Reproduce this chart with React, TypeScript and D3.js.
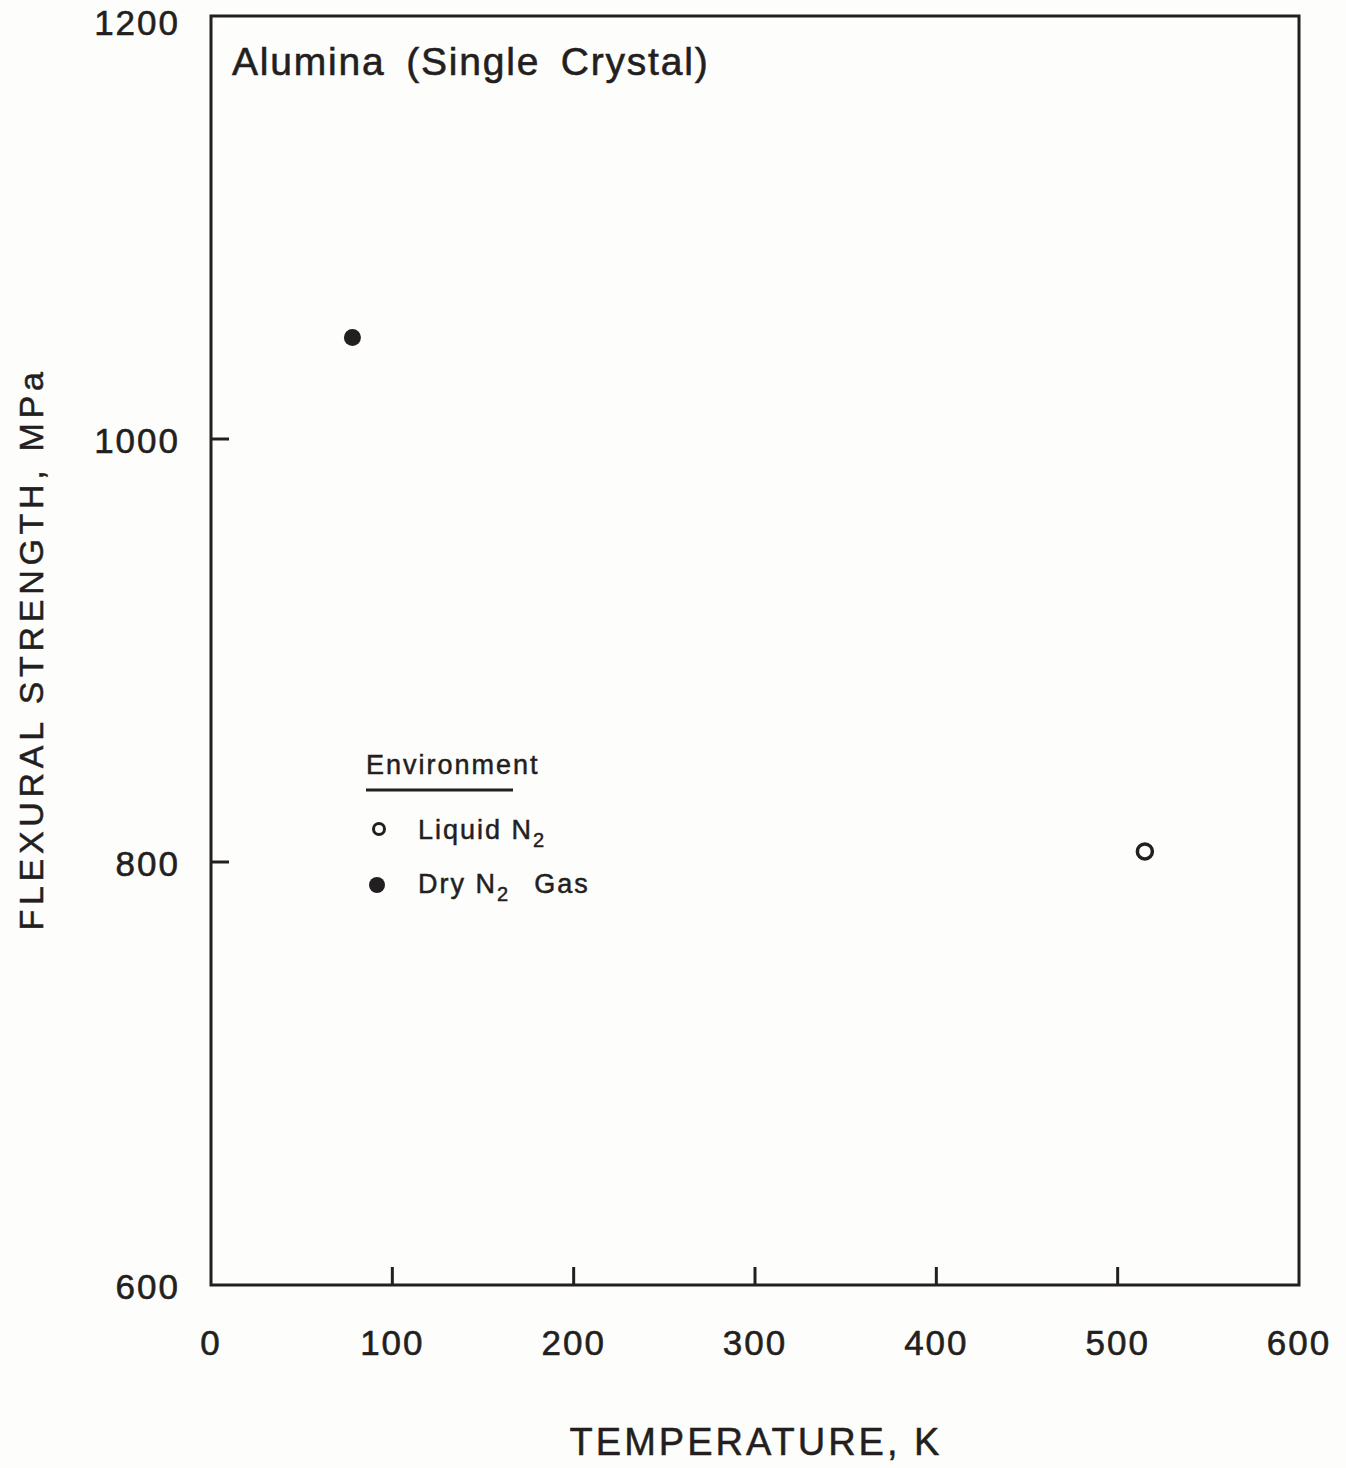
import React from "react";
import * as d3 from "d3";

// Flexural strength of single-crystal alumina vs. temperature
const liquidN2Temps = [515];
const liquidN2Strength = [805];
const dryN2Temps = [78];
const dryN2Strength = [1048];

const xTicks = [0, 100, 200, 300, 400, 500, 600];
const yTicks = [600, 800, 1000, 1200];

const W = 1346;
const H = 1468;
const left = 211;
const right = 1299;
const top = 16;
const bottom = 1285;
const ink = "#231f20";
const font = "'Liberation Sans', Arial, Helvetica, sans-serif";

export default function App() {
  const x = d3.scaleLinear().domain([0, 600]).range([left, right]);
  const y = d3.scaleLinear().domain([600, 1200]).range([bottom, top]);

  return (
    <svg
      width={W}
      height={H}
      style={{ position: "absolute", left: 0, top: 0, background: "#fdfdfb" }}
      fontFamily={font}
      fontWeight={500}
    >
      <rect x={0} y={0} width={W} height={H} fill="#fdfdfb" />
      {/* plot frame */}
      <rect
        x={left}
        y={top}
        width={right - left}
        height={bottom - top}
        fill="none"
        stroke={ink}
        strokeWidth={3}
      />
      {/* x ticks (inward) */}
      {xTicks.slice(1, -1).map((t) => (
        <line key={"xt" + t} x1={x(t)} x2={x(t)} y1={bottom} y2={bottom - 18} stroke={ink} strokeWidth={3} />
      ))}
      {xTicks.map((t) => (
        <text key={"xl" + t} x={x(t)} y={1355} textAnchor="middle" fontSize={35} fill={ink} letterSpacing={2} stroke={ink} strokeWidth={0.6}>
          {t}
        </text>
      ))}
      {/* y ticks (inward) */}
      {yTicks.slice(1, -1).map((t) => (
        <line key={"yt" + t} x1={left} x2={left + 18} y1={y(t)} y2={y(t)} stroke={ink} strokeWidth={3} />
      ))}
      {yTicks.map((t) => (
        <text key={"yl" + t} x={180} y={y(t) + (t === 1200 ? 19 : 14)} textAnchor="end" fontSize={35} fill={ink} letterSpacing={2} stroke={ink} strokeWidth={0.6}>
          {t}
        </text>
      ))}
      {/* axis titles */}
      <text x={756} y={1455} textAnchor="middle" fontSize={38} fill={ink} letterSpacing={3} stroke={ink} strokeWidth={0.5}>
        TEMPERATURE, K
      </text>
      <text
        transform={`translate(43, ${649}) rotate(-90)`}
        textAnchor="middle"
        fontSize={34}
        fill={ink}
        letterSpacing={4.7}
        stroke={ink}
        strokeWidth={0.5}
      >
        FLEXURAL STRENGTH, MPa
      </text>
      {/* panel title */}
      <text x={232} y={75} fontSize={39} fill={ink} letterSpacing={1.8} wordSpacing={8} stroke={ink} strokeWidth={0.6}>
        Alumina (Single Crystal)
      </text>
      {/* data */}
      {liquidN2Temps.map((t, i) => (
        <circle key={"l" + i} cx={x(t)} cy={y(liquidN2Strength[i])} r={7.5} fill="none" stroke={ink} strokeWidth={3.5} />
      ))}
      {dryN2Temps.map((t, i) => (
        <circle key={"d" + i} cx={x(t)} cy={y(dryN2Strength[i])} r={8.5} fill={ink} />
      ))}
      {/* legend */}
      <text x={366} y={774} fontSize={27} fill={ink} letterSpacing={2} stroke={ink} strokeWidth={0.5}>
        Environment
      </text>
      <line x1={366} x2={513} y1={790} y2={790} stroke={ink} strokeWidth={3} />
      <circle cx={379} cy={829} r={5.5} fill="none" stroke={ink} strokeWidth={3} />
      <text x={418} y={839} fontSize={27} fill={ink} letterSpacing={2} stroke={ink} strokeWidth={0.5}>
        Liquid N<tspan dy={8} fontSize={20}>2</tspan>
      </text>
      <circle cx={377} cy={885} r={8} fill={ink} />
      <text x={418} y={893} fontSize={27} fill={ink} letterSpacing={2} stroke={ink} strokeWidth={0.5}>
        Dry N<tspan dy={8} fontSize={20}>2</tspan>
        <tspan dy={-8} dx={24}>Gas</tspan>
      </text>
    </svg>
  );
}
